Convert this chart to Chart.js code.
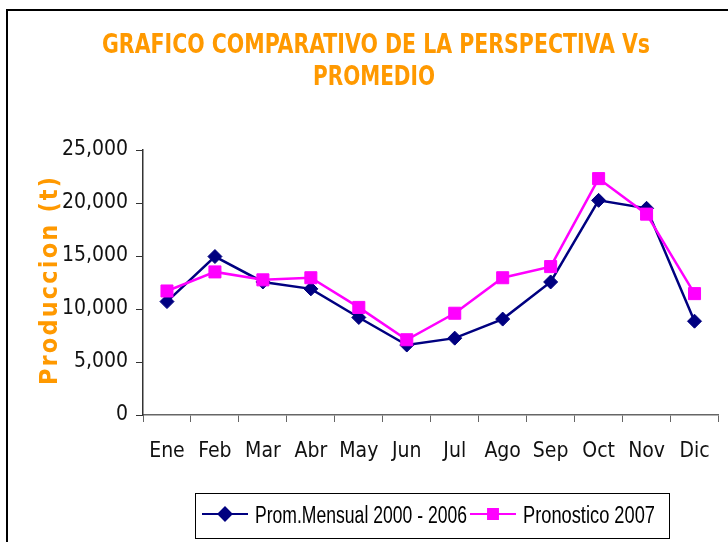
<!DOCTYPE html>
<html>
<head>
<meta charset="utf-8">
<script src="https://cdn.jsdelivr.net/npm/chart.js@4.4.1/dist/chart.umd.min.js"></script>
<style>
    html, body { margin: 0; padding: 0; background: #fff; }
    #wrap { width: 728px; height: 542px; position: relative; }
</style>
</head>
<body>
<div id="wrap"><canvas id="grafico" width="728" height="542"></canvas></div>
<script>
// Datos
const meses = ['Ene', 'Feb', 'Mar', 'Abr', 'May', 'Jun', 'Jul', 'Ago', 'Sep', 'Oct', 'Nov', 'Dic'];
const promMensual = [10700, 14950, 12550, 11900, 9200, 6600, 7250, 9050, 12550, 20250, 19500, 8850];
const pronostico2007 = [11700, 13500, 12750, 12950, 10150, 7100, 9600, 12950, 14000, 22300, 18950, 11450];
const yTicks = [0, 5000, 10000, 15000, 20000, 25000];

const tituloLineas = ['GRAFICO COMPARATIVO DE LA PERSPECTIVA Vs', 'PROMEDIO'];
const tituloEje = 'Produccion (t)';

const naranja = '#FF9900';
const azul = '#000080';
const rosa = '#FF00FF';

// escribe un texto ajustado a un ancho dado (espaciado o compresion)
const textoAncho = (ctx, texto, ancho) => {
    ctx.letterSpacing = '0px';
    const w = ctx.measureText(texto).width;
    if (w > ancho) {
        ctx.save();
        ctx.scale(ancho / w, 1);
        ctx.fillText(texto, 0, 0);
        ctx.restore();
    } else {
        const esp = (ancho - w) / (texto.length - 1);
        ctx.letterSpacing = esp + 'px';
        ctx.fillText(texto, esp / 2, 0);
        ctx.letterSpacing = '0px';
    }
};

// Marco, titulo y titulo del eje Y
const decoracion = {
    id: 'decoracion',
    beforeDraw(chart) {
        const ctx = chart.ctx;
        ctx.save();
        ctx.fillStyle = '#fff';
        ctx.fillRect(0, 0, chart.width, chart.height);
        ctx.strokeStyle = '#000';
        ctx.lineWidth = 2;
        ctx.beginPath();
        ctx.moveTo(7, chart.height);
        ctx.lineTo(7, 10);
        ctx.lineTo(chart.width, 10);
        ctx.stroke();
        ctx.restore();
    },
    afterDraw(chart) {
        const ctx = chart.ctx;
        ctx.save();
        ctx.fillStyle = naranja;
        ctx.font = 'bold 26px "DejaVu Sans Condensed", "DejaVu Sans"';
        ctx.textAlign = 'center';
        ctx.textBaseline = 'alphabetic';

        ctx.save();
        ctx.translate(376, 53);
        textoAncho(ctx, tituloLineas[0], 548);
        ctx.restore();

        ctx.save();
        ctx.translate(374, 85);
        textoAncho(ctx, tituloLineas[1], 122);
        ctx.restore();

        // titulo eje Y, rotado
        ctx.font = 'bold 25px "DejaVu Sans Condensed", "DejaVu Sans"';
        ctx.translate(57, 281);
        ctx.rotate(-Math.PI / 2);
        textoAncho(ctx, tituloEje, 208);
        ctx.restore();
    }
};

// Leyenda con linea y marcador, dentro de un recuadro
const leyenda = {
    id: 'leyenda',
    afterDraw(chart) {
        const ctx = chart.ctx;
        const anchos = [212, 132];
        const inicios = [202, 470];
        ctx.save();
        ctx.strokeStyle = '#000';
        ctx.lineWidth = 1;
        ctx.strokeRect(195.5, 493.5, 474, 45);
        ctx.font = '23px "Liberation Sans Narrow", "Liberation Sans"';
        ctx.textBaseline = 'alphabetic';
        ctx.textAlign = 'left';
        const y = 514;
        chart.data.datasets.forEach((ds, i) => {
            const x = inicios[i];
            ctx.strokeStyle = ds.borderColor;
            ctx.lineWidth = 2;
            ctx.beginPath();
            ctx.moveTo(x, y);
            ctx.lineTo(x + 46, y);
            ctx.stroke();
            ctx.fillStyle = ds.backgroundColor;
            ctx.strokeStyle = ds.borderColor;
            Chart.helpers.drawPoint(ctx, {
                pointStyle: ds.pointStyle,
                radius: ds.pointStyle === 'rect' ? 7 : 6.5,
                rotation: 0,
                borderWidth: 1
            }, x + 23, y);
            ctx.fillStyle = '#000';
            const w = ctx.measureText(ds.label).width;
            ctx.save();
            ctx.translate(x + 53, 523);
            ctx.scale(Math.min(1, anchos[i] / w), 1);
            ctx.fillText(ds.label, 0, 0);
            ctx.restore();
        });
        ctx.restore();
    }
};

new Chart(document.getElementById('grafico'), {
    type: 'line',
    data: {
        labels: meses,
        datasets: [{
            label: 'Prom.Mensual 2000 - 2006',
            data: promMensual,
            borderColor: azul,
            backgroundColor: azul,
            borderWidth: 2.5,
            pointStyle: 'rectRot',
            pointRadius: 7,
            pointBorderWidth: 1,
            tension: 0,
            order: 1
        }, {
            label: 'Pronostico 2007',
            data: pronostico2007,
            borderColor: rosa,
            backgroundColor: rosa,
            borderWidth: 2.5,
            pointStyle: 'rect',
            pointRadius: 8.5,
            pointBorderWidth: 1,
            tension: 0,
            order: 0
        }]
    },
    options: {
        responsive: false,
        animation: false,
        layout: {
            padding: { top: 150, right: 5, left: 0, bottom: 0 }
        },
        plugins: {
            legend: { display: false },
            title: { display: false },
            tooltip: { enabled: false }
        },
        scales: {
            x: {
                offset: true,
                grid: {
                    offset: true,
                    drawOnChartArea: false,
                    drawTicks: true,
                    tickLength: 7,
                    color: '#666'
                },
                border: { color: '#666', width: 1.5 },
                ticks: {
                    color: '#111',
                    padding: 17,
                    font: { family: '"DejaVu Sans Condensed", "DejaVu Sans"', size: 21 }
                },
                afterFit(scale) {
                    scale.height = 127;
                }
            },
            y: {
                min: 0,
                max: 25000,
                grid: {
                    drawOnChartArea: false,
                    drawTicks: true,
                    tickLength: 7,
                    color: '#333'
                },
                border: { color: '#333', width: 1.5 },
                afterBuildTicks(scale) {
                    scale.ticks = yTicks.map(v => ({ value: v }));
                },
                ticks: {
                    color: '#111',
                    padding: 8,
                    font: { family: '"DejaVu Sans Condensed", "DejaVu Sans"', size: 21 },
                    callback: v => v.toLocaleString('en-US')
                },
                afterFit(scale) {
                    scale.width = 143;
                }
            }
        }
    },
    plugins: [decoracion, leyenda]
});
</script>
</body>
</html>
